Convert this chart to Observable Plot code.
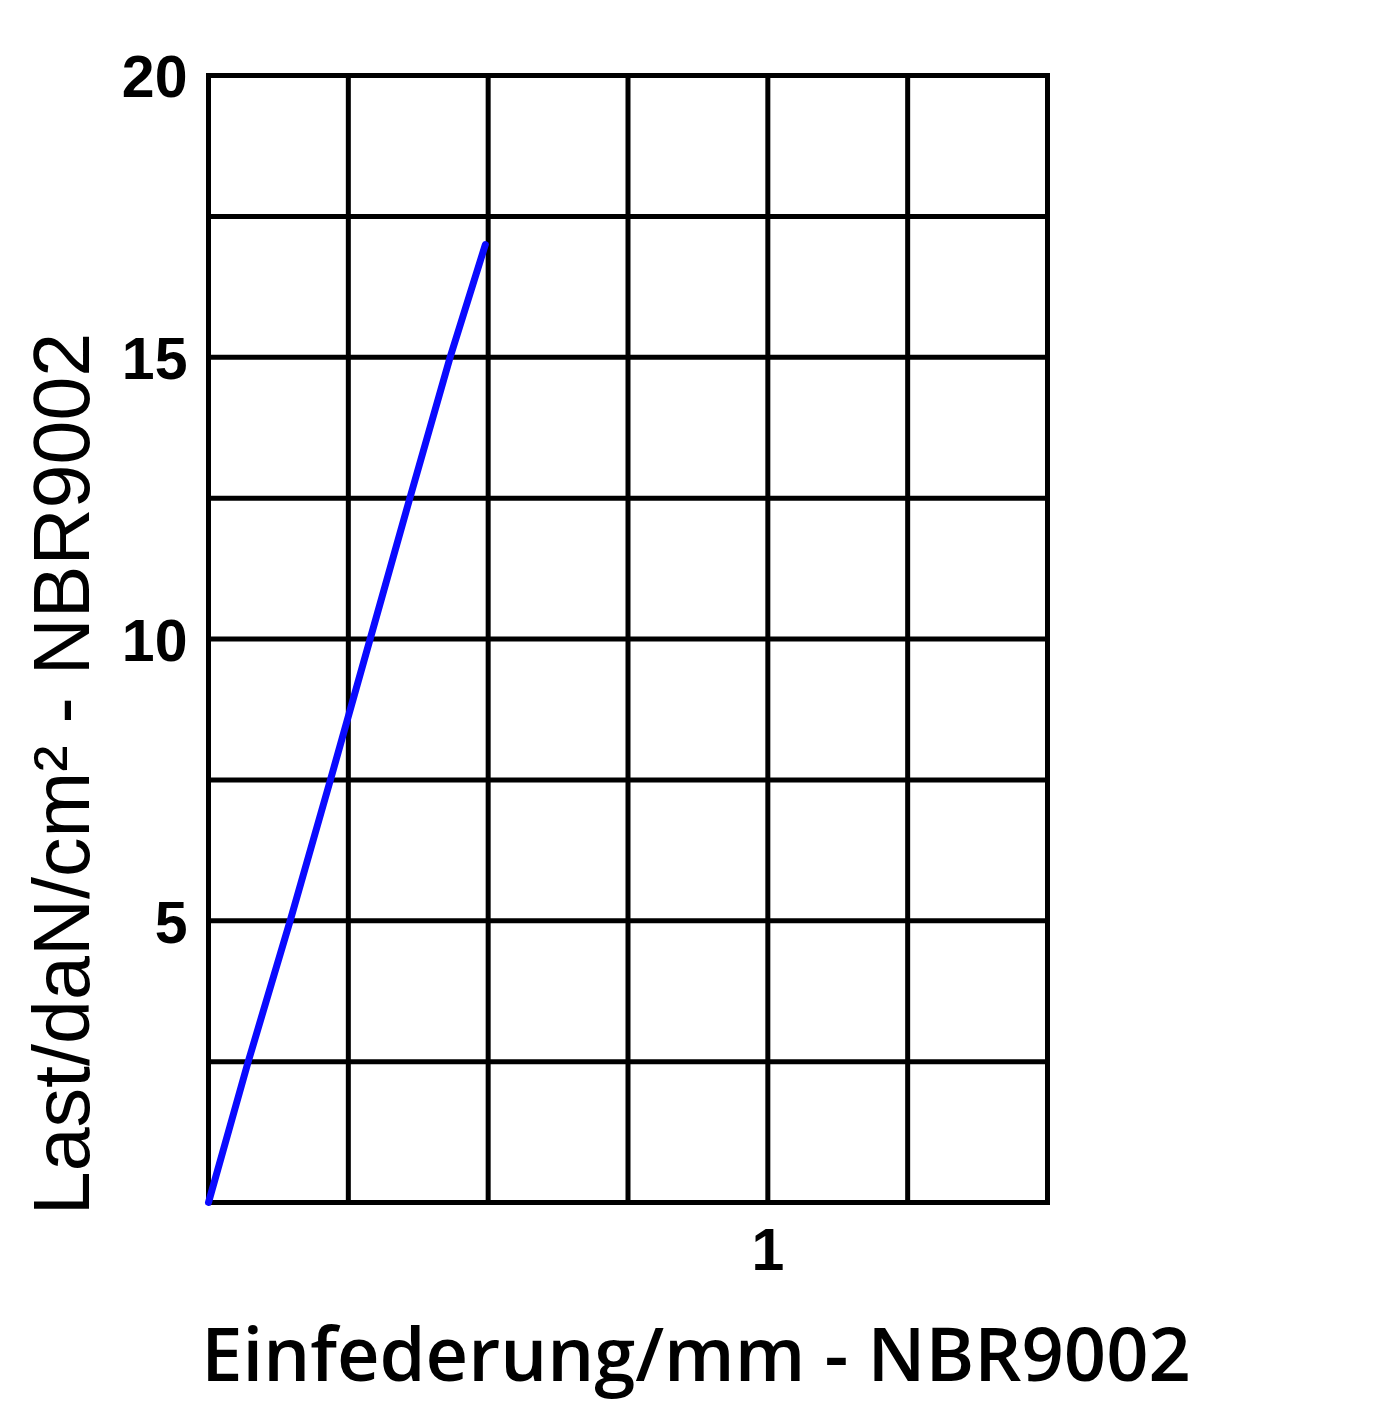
<!DOCTYPE html>
<html>
<head>
<meta charset="utf-8">
<script src="https://cdn.jsdelivr.net/npm/d3@7"></script>
<script src="https://cdn.jsdelivr.net/npm/@observablehq/plot@0.6"></script>
<style>
  html, body { margin: 0; padding: 0; background: #fff; }
  #chart svg { display: block; }
</style>
</head>
<body>
<div id="chart"></div>
<script>
// Deflection (mm) and load (daN/cm²)
const deflection = [0, 0.071, 0.146, 0.218, 0.289, 0.36, 0.432, 0.495];
const load       = [0, 2.5,   5,     7.5,   10,    12.5, 15,    17];

const xGrid = [0, 0.25, 0.5, 0.75, 1, 1.25, 1.5];
const yGrid = [0, 2.5, 5, 7.5, 10, 12.5, 15, 17.5, 20];
const xTickLabels = [1];
const yTickLabels = [5, 10, 15, 20];

const xTitle = "Einfederung/mm - NBR9002";
const yTitle = "Last/daN/cm² - NBR9002";

const rows = deflection.map((d, i) => ({x: d, y: load[i]}));

const chart = Plot.plot({
  width: 1400,
  height: 1418,
  marginLeft: 208,
  marginRight: 353,
  marginTop: 75,
  marginBottom: 216,
  style: {background: "#fff"},
  x: {domain: [0, 1.5]},
  y: {domain: [0, 20]},
  marks: [
    Plot.ruleX(xGrid, {stroke: "#000", strokeWidth: 5}),
    Plot.ruleY(yGrid, {stroke: "#000", strokeWidth: 5}),
    Plot.frame({stroke: "#000", strokeWidth: 5}),
    Plot.line(rows, {x: "x", y: "y", stroke: "#0a0aff", strokeWidth: 7}),
    Plot.axisY(yTickLabels, {tickSize: 0, tickPadding: 21, label: null, tickFormat: d => String(d),
      fontSize: 59, fontWeight: "bold", fontFamily: "Liberation Sans", fill: "#000", dy: 3}),
    Plot.axisX(xTickLabels, {tickSize: 0, tickPadding: 26, label: null, tickFormat: d => String(d),
      fontSize: 59, fontWeight: "bold", fontFamily: "Liberation Sans", fill: "#000"}),
    Plot.text([xTitle], {text: d => d, frameAnchor: "bottom", lineAnchor: "middle", textAnchor: "middle",
      dx: 68, dy: 155, fontSize: 74, fontWeight: 600, fontFamily: "Open Sans", fill: "#000"}),
    Plot.text([yTitle], {text: d => d, frameAnchor: "left", lineAnchor: "middle", textAnchor: "middle",
      rotate: -90, dx: -145, dy: 135, fontSize: 79, fontFamily: "Liberation Sans", fill: "#000"})
  ]
});
document.getElementById("chart").appendChild(chart);
</script>
</body>
</html>
